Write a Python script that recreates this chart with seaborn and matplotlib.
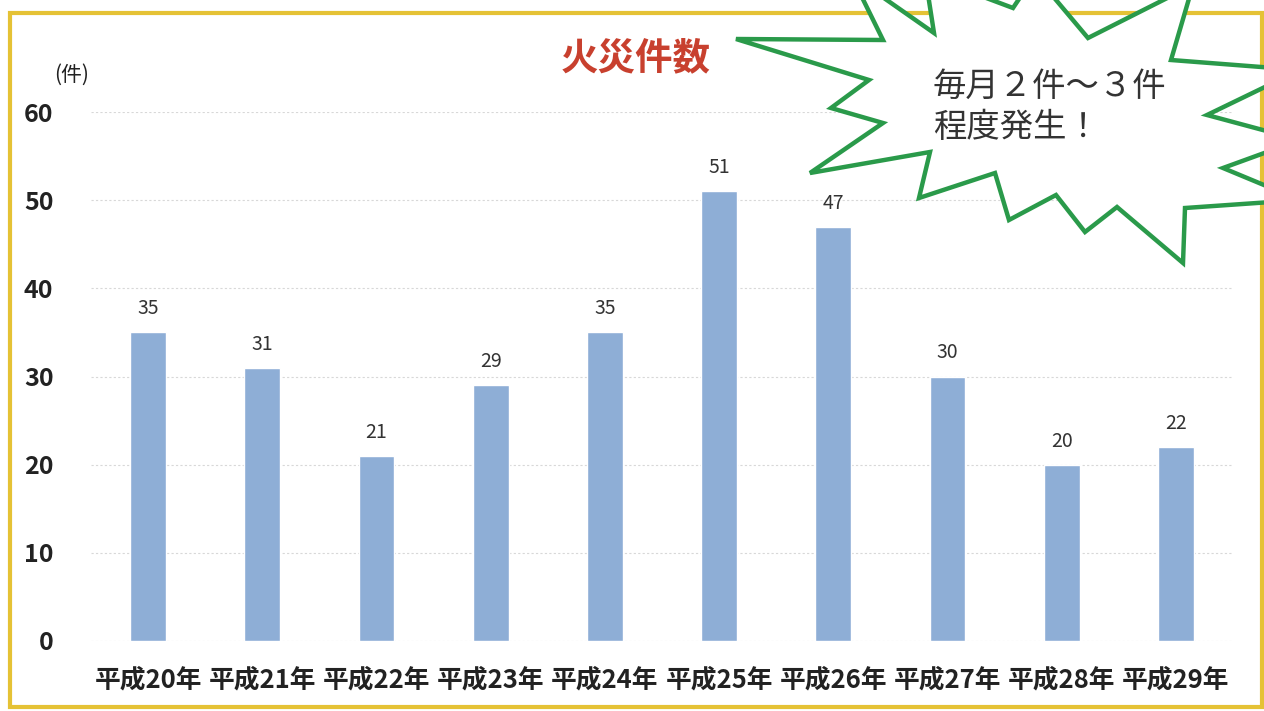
import matplotlib
matplotlib.use("Agg")
import matplotlib.pyplot as plt
import numpy as np
import pandas as pd
import seaborn as sns
from matplotlib.patches import Polygon, Rectangle

# === データ ===
years = ["平成20年", "平成21年", "平成22年", "平成23年", "平成24年",
         "平成25年", "平成26年", "平成27年", "平成28年", "平成29年"]
fires = [35, 31, 21, 29, 35, 51, 47, 30, 20, 22]
y_ticks = [0, 10, 20, 30, 40, 50, 60]

title = "火災件数"
unit = "(件)"
callout = "毎月２件～３件\n程度発生！"

df = pd.DataFrame({"year": years, "fires": fires})

sns.set_theme(style="white")
plt.rcParams['font.family'] = ['Noto Sans CJK JP', 'DejaVu Sans']

W, H = 1264, 711
fig = plt.figure(figsize=(W / 100, H / 100), dpi=100)
ax = fig.add_axes([91 / W, 1 - 641 / H, (1233 - 91) / W, (641 - 112) / H])

sns.barplot(data=df, x="year", y="fires", color="#8EAED6", width=0.315,
            saturation=1, ax=ax, zorder=3)

ax.set_xlim(-0.5, len(years) - 0.5)
ax.set_ylim(0, 60)
ax.set_yticks(y_ticks)
ax.yaxis.grid(True, color="#d8d8d8", linestyle=(0, (2, 2)), linewidth=0.8)
ax.set_axisbelow(True)
for s in ax.spines.values():
    s.set_visible(False)
ax.set_xlabel("")
ax.set_ylabel("")
ax.tick_params(axis="y", pad=27, length=0, labelsize=18, labelcolor="#222222")
ax.tick_params(axis="x", pad=18, length=0, labelsize=18.5, labelcolor="#222222")
for lab in ax.get_yticklabels() + ax.get_xticklabels():
    lab.set_fontweight("bold")

# 数値ラベル
for i, v in enumerate(fires):
    ax.annotate(str(v), (i, v), xytext=(0, 13), textcoords="offset points",
                ha="center", va="baseline", fontsize=14, color="#333333")

# 単位
fig.text(72 / W, 1 - 75 / H, unit, ha="center", va="center", fontsize=15, color="#222222")

# タイトル
fig.text(636 / W, 1 - 58 / H, title, ha="center", va="center", fontsize=27,
         fontweight="bold", color="#C8402E")

# 枠
fig.add_artist(Rectangle((10 / W, 1 - 707 / H), (1262 - 10) / W, (707 - 13) / H,
                         transform=fig.transFigure, fill=False,
                         edgecolor="#E5C235", linewidth=3, zorder=4))

# 吹き出し（星形）
star_px = np.array([
    (736, 39), (883, 40), (851, -25), (934, 33), (925, -25), (1013, 8),
    (1035, -25), (1088, 38), (1193, -15), (1171, 60), (1300, 70),
    (1207, 115), (1300, 140), (1223, 168), (1300, 200), (1185, 208),
    (1183, 263), (1117, 207), (1085, 232), (1056, 195), (1009, 220),
    (995, 173), (919, 198), (930, 152), (810, 173), (883, 123),
    (831, 108), (869, 80),
])
star = np.column_stack([star_px[:, 0] / W, 1 - star_px[:, 1] / H])
fig.add_artist(Polygon(star, closed=True, transform=fig.transFigure,
                       facecolor="white", edgecolor="#2A9A4A", linewidth=3.2,
                       joinstyle="miter", zorder=5))

fig.text(933 / W, 1 - 107 / H, callout, ha="left", va="center", fontsize=24,
         color="#333333", linespacing=1.2, zorder=6)

fig.savefig("out.png", dpi=100)
